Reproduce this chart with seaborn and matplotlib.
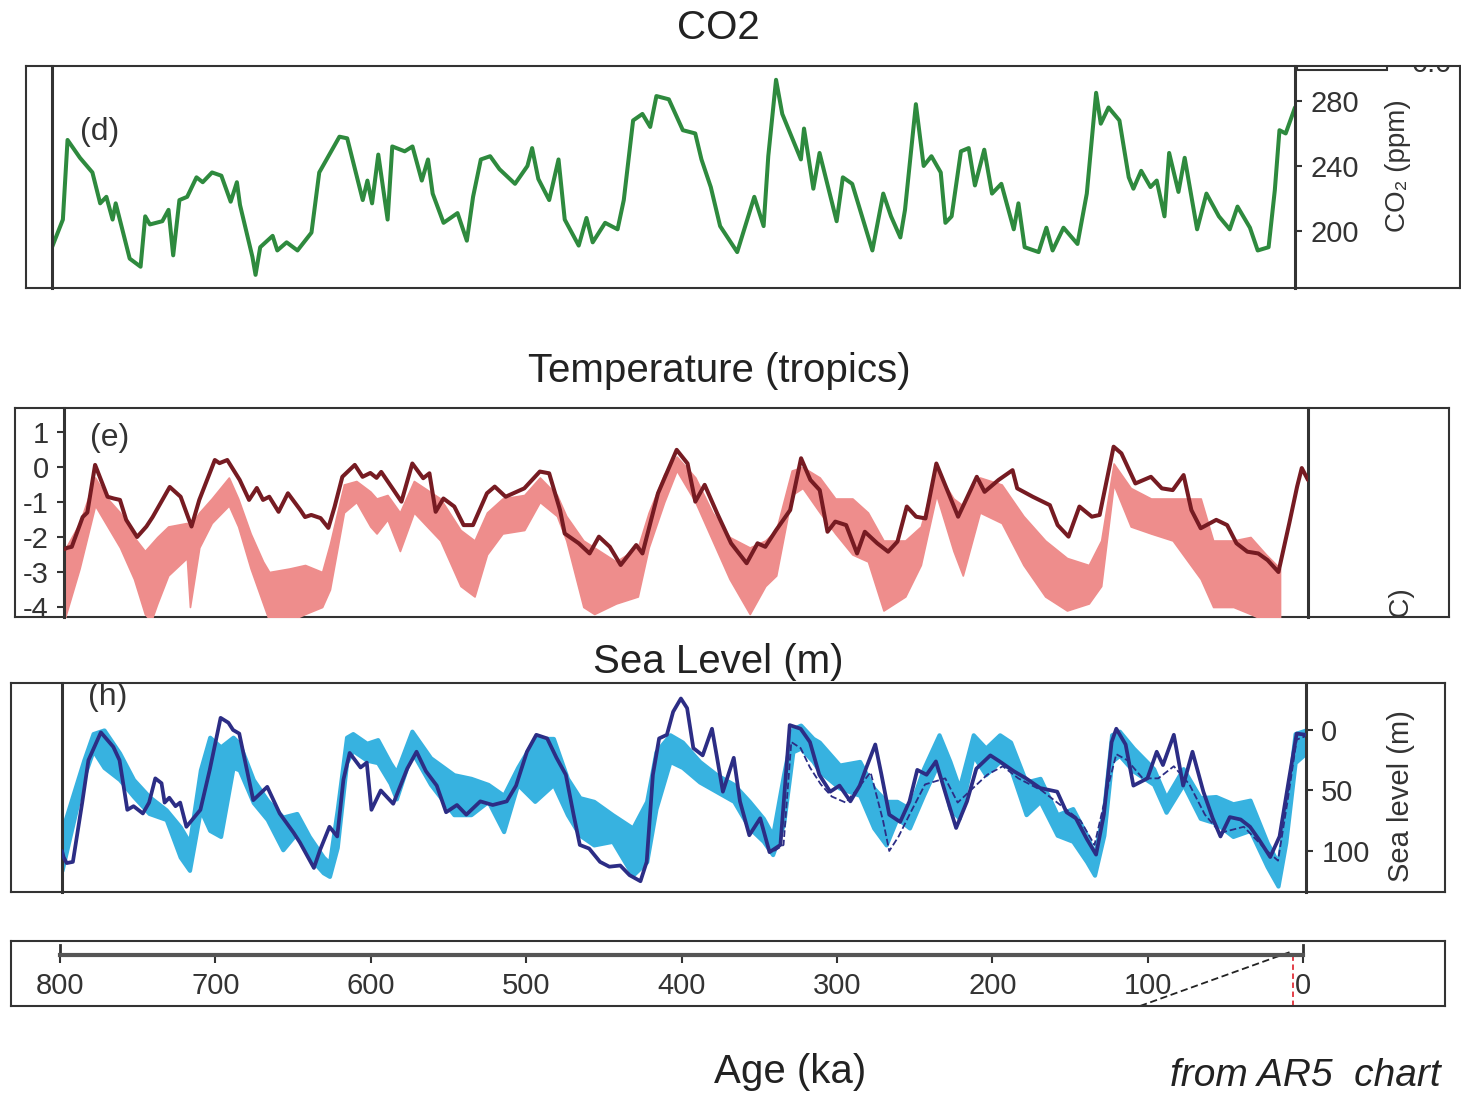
"""Paleo-climate montage: CO2, tropical temperature and sea level over the last 800 ka."""
import matplotlib
matplotlib.use('Agg')
import matplotlib.pyplot as plt
from matplotlib.patches import Rectangle
import seaborn as sns

W, H = 1461, 1095

# ---- CO2 (ppm) ----
co2_age = [800, 793, 790, 782, 774, 769, 765, 761, 759, 750, 743, 740, 737, 729, 725, 722,
           718, 713, 707, 703, 697, 691, 685, 681, 679, 671, 669, 666, 658, 655, 649, 642,
           633, 628, 615, 610, 600, 597, 594, 590, 584, 581, 573, 568, 562, 558, 555, 548,
           539, 533, 529, 524, 518, 512, 502, 494, 491, 487, 480, 474, 470, 461, 456, 452,
           444, 436, 432, 426, 420, 415, 411, 403, 394, 386, 382, 376, 370, 359, 348, 342,
           339, 334, 330, 318, 316, 310, 306, 295, 291, 285, 272, 265, 260, 254, 251, 244,
           239, 234, 228, 225, 221, 215, 210, 206, 200, 195, 189, 181, 178, 174, 165, 160,
           156, 149, 140, 134, 128, 125, 120, 113, 107, 104, 99, 93, 89, 84, 81, 75,
           71, 63, 57, 49, 42, 37, 29, 24, 17, 13, 10, 6, 0]
co2_ppm = [190, 207, 256, 245, 236, 217, 221, 207, 217, 183, 178, 209, 204, 206, 213, 185,
           219, 221, 233, 230, 236, 234, 218, 230, 216, 184, 173, 190, 197, 188, 193, 188,
           199, 236, 258, 257, 219, 231, 217, 247, 207, 252, 249, 252, 231, 244, 223, 205,
           211, 194, 221, 244, 246, 238, 229, 240, 251, 232, 219, 244, 207, 191, 208, 193,
           205, 201, 219, 268, 272, 264, 283, 281, 262, 260, 244, 227, 203, 187, 221, 203,
           246, 293, 272, 244, 263, 226, 248, 206, 233, 229, 188, 223, 209, 196, 213, 278,
           240, 246, 236, 205, 209, 249, 251, 228, 250, 223, 229, 201, 217, 190, 187, 202,
           188, 202, 192, 223, 285, 266, 276, 268, 233, 226, 237, 227, 231, 209, 248, 224,
           245, 201, 223, 209, 201, 215, 202, 188, 190, 225, 262, 260, 276]
co2_ticks = [200, 240, 280]

# ---- tropical temperature anomaly (degC) ----
temp_age = [800, 798, 795, 788, 785, 780, 777, 772, 768, 764, 760, 753, 747, 743, 732, 725,
            718, 713, 703, 700, 695, 687, 681, 676, 672, 668, 662, 656, 648, 645, 641, 635,
            630, 626, 621, 613, 608, 603, 599, 596, 588, 583, 576, 569, 565, 561, 556, 549,
            543, 537, 528, 523, 516, 509, 504, 494, 488, 481, 478, 469, 462, 456, 449, 442,
            432, 428, 418, 406, 399, 394, 388, 380, 371, 361, 354, 349, 342, 333, 326, 320,
            314, 309, 304, 297, 290, 285, 277, 270, 264, 258, 252, 246, 239, 232, 225, 213,
            208, 199, 190, 187, 177, 166, 161, 154, 147, 139, 134, 125, 120, 111, 101, 94,
            87, 80, 75, 69, 59, 52, 46, 39, 32, 26, 19, 12, 7, 4, 0]
temp_val = [-2.35, -2.31, -2.28, -1.43, -1.30, 0.06, -0.28, -0.85, -0.90, -0.94, -1.51, -2.00,
            -1.70, -1.43, -0.57, -0.85, -1.70, -0.94, 0.20, 0.11, 0.20, -0.37, -0.94, -0.60,
            -0.94, -0.85, -1.28, -0.75, -1.23, -1.43, -1.37, -1.46, -1.74, -1.14, -0.28, 0.06,
            -0.28, -0.17, -0.31, -0.14, -0.66, -0.99, 0.10, -0.32, -0.18, -1.28, -0.90, -1.13,
            -1.66, -1.66, -0.75, -0.56, -0.85, -0.71, -0.61, -0.13, -0.18, -1.23, -1.90, -2.18,
            -2.47, -1.99, -2.28, -2.80, -2.23, -2.47, -0.75, 0.49, 0.10, -0.99, -0.51, -1.32,
            -2.18, -2.75, -2.18, -2.28, -1.80, -1.23, 0.25, -0.37, -0.66, -1.85, -1.56, -1.66,
            -2.47, -1.85, -2.18, -2.42, -2.13, -1.13, -1.42, -1.47, 0.10, -0.66, -1.42, -0.28,
            -0.71, -0.37, -0.09, -0.61, -0.85, -1.09, -1.66, -1.99, -1.13, -1.42, -1.37, 0.58,
            0.39, -0.47, -0.28, -0.61, -0.66, -0.23, -1.23, -1.75, -1.51, -1.66, -2.18, -2.42,
            -2.47, -2.66, -3.00, -1.60, -0.56, -0.03, -0.37]
band_age = [800, 790, 780, 772, 764, 755, 748, 744, 740, 733, 721, 719, 713, 705, 694, 688,
            680, 672, 668, 655, 645, 634, 629, 620, 612, 603, 599, 592, 584, 575, 558, 545,
            536, 528, 518, 504, 494, 483, 477, 466, 459, 445, 431, 424, 414, 406, 394, 383,
            372, 359, 349, 342, 332, 325, 314, 304, 293, 283, 273, 259, 249, 239, 228, 222,
            211, 197, 183, 169, 155, 141, 133, 125, 114, 101, 87, 69, 61, 48, 37, 27, 18]
band_hi = [-2.4, -1.6, -0.3, -0.9, -1.3, -2.0, -2.4, -2.2, -2.0, -1.7, -1.6, -1.7, -1.3, -0.9,
           -0.3, -0.9, -1.9, -2.7, -3.0, -2.9, -2.8, -3.0, -2.2, -0.5, -0.4, -0.7, -0.9, -0.8,
           -1.3, -0.4, -0.9, -1.8, -2.1, -1.3, -0.9, -0.8, -0.3, -0.8, -1.4, -2.1, -2.3, -2.7,
           -2.3, -1.3, -0.2, 0.3, -0.3, -1.3, -2.0, -2.3, -2.1, -1.8, -0.1, 0.0, -0.3, -0.9,
           -0.9, -1.3, -2.1, -2.1, -1.7, -0.1, -0.9, -1.1, -0.3, -0.5, -1.4, -2.1, -2.6, -2.8,
           -2.1, 0.1, -0.6, -0.9, -0.9, -0.9, -2.1, -2.1, -2.0, -2.5, -2.9]
band_lo = [-4.4, -2.9, -1.1, -1.7, -2.3, -3.2, -4.2, -4.4, -3.9, -3.1, -2.6, -4.0, -2.3, -1.6,
           -1.1, -1.7, -2.9, -3.9, -4.4, -4.4, -4.2, -4.0, -3.5, -1.3, -1.0, -1.7, -1.9, -1.5,
           -2.4, -1.3, -2.1, -3.4, -3.7, -2.5, -1.9, -1.8, -1.0, -1.4, -2.1, -4.0, -4.2, -3.9,
           -3.7, -2.3, -1.0, -0.1, -1.0, -2.1, -3.2, -4.2, -3.4, -3.1, -0.8, -0.6, -1.3, -1.9,
           -2.5, -2.7, -4.1, -3.7, -2.8, -0.8, -2.4, -3.1, -1.3, -1.6, -2.8, -3.7, -4.1, -3.9,
           -3.4, -0.5, -1.7, -1.9, -2.1, -3.2, -4.0, -4.0, -4.2, -4.4, -4.4]
temp_ticks = [1, 0, -1, -2, -3, -4]

# ---- sea level (m below present) ----
sl_age = [800, 799, 797, 793, 787, 783, 775, 767, 763, 758, 754, 748, 744, 740, 736, 734,
          731, 727, 724, 720, 711, 705, 698, 693, 690, 686, 677, 668, 660, 651, 647, 638,
          634, 628, 623, 619, 615, 608, 604, 601, 595, 587, 578, 572, 566, 559, 553, 546,
          540, 531, 523, 514, 508, 501, 495, 488, 482, 476, 471, 467, 461, 454, 448, 441,
          435, 428, 424, 420, 416, 411, 407, 402, 398, 394, 388, 382, 379, 375, 368, 364,
          358, 351, 345, 338, 332, 325, 319, 313, 306, 300, 293, 287, 283, 277, 273, 268,
          261, 255, 250, 244, 238, 231, 225, 218, 212, 203, 197, 188, 180, 171, 160, 154,
          148, 141, 135, 130, 125, 122, 116, 111, 102, 96, 92, 85, 79, 73, 66, 60,
          55, 49, 42, 36, 30, 23, 17, 11, 6, 0]
sl_val = [100, 105, 110, 109, 60, 25, 2, 14, 25, 66, 63, 69, 60, 40, 44, 60,
          56, 63, 60, 80, 66, 33, -10, -6, 0, 3, 58, 47, 69, 85, 93, 114,
          99, 80, 88, 41, 19, 31, 27, 66, 50, 61, 32, 18, 34, 46, 68, 62,
          70, 59, 62, 59, 46, 18, 4, 7, 23, 37, 70, 95, 98, 109, 113, 112,
          120, 125, 109, 37, 7, 4, -15, -26, -18, 15, 21, -1, 21, 51, 23, 59,
          87, 73, 101, 95, -4, -1, 10, 37, 51, 46, 59, 46, 32, 12, 37, 70,
          76, 59, 33, 37, 26, 56, 81, 59, 32, 21, 26, 34, 40, 48, 51, 68,
          73, 90, 103, 70, 10, -1, 12, 46, 40, 18, 29, 4, 46, 18, 51, 73,
          88, 72, 74, 80, 91, 105, 88, 41, 3, 4]
sl_band_age = [800, 786, 780, 773, 763, 754, 744, 733, 724, 718, 711, 705, 698, 690, 686, 677,
               668, 658, 649, 641, 632, 628, 623, 617, 613, 604, 597, 589, 585, 575, 563, 548,
               537, 526, 516, 507, 496, 484, 475, 467, 458, 446, 433, 424, 418, 409, 401, 390,
               379, 368, 358, 349, 343, 336, 330, 325, 317, 313, 300, 287, 278, 270, 263, 255,
               246, 236, 229, 223, 214, 206, 197, 190, 180, 171, 160, 150, 141, 136, 130, 125,
               120, 111, 98, 90, 79, 68, 58, 47, 36, 25, 18, 13, 7, 0]
sl_band_hi = [83, 25, 3, 0, 19, 41, 55, 66, 80, 93, 33, 6, 14, 6, 11, 41,
              58, 72, 69, 88, 105, 110, 66, 6, 3, 11, 8, 27, 35, 1, 23, 37,
              40, 45, 54, 31, 7, 7, 40, 56, 59, 70, 81, 59, 18, 4, 10, 26,
              37, 45, 59, 73, 87, 37, -1, -4, 7, 10, 29, 26, 48, 59, 59, 65,
              32, 4, 26, 48, 4, 15, 4, 10, 43, 40, 70, 65, 87, 103, 65, 4,
              1, 15, 32, 56, 32, 56, 55, 61, 58, 93, 110, 69, 3, 0]
sl_band_lo = [116, 39, 17, 31, 41, 55, 69, 74, 105, 116, 66, 83, 88, 31, 33, 60,
              74, 99, 85, 105, 118, 121, 97, 27, 17, 25, 27, 44, 57, 18, 45, 70,
              70, 59, 84, 45, 59, 45, 70, 87, 95, 92, 120, 109, 65, 26, 31, 43,
              51, 59, 81, 92, 103, 78, 18, 15, 26, 34, 48, 54, 81, 95, 73, 81,
              54, 26, 65, 73, 21, 37, 26, 32, 70, 59, 87, 92, 109, 120, 87, 26,
              21, 34, 45, 68, 45, 73, 77, 88, 83, 113, 129, 93, 27, 19]
sl_dash_age = [342, 336, 331, 325, 319, 312, 305, 296, 288, 280, 272, 268, 262, 255, 245, 232,
               224, 205, 195, 185, 170, 155, 145, 136, 128, 122, 115, 105, 95, 85, 75, 65,
               55, 40, 25, 18, 12, 6, 0]
sl_dash_val = [100, 95, 10, 15, 31, 45, 55, 60, 48, 35, 75, 100, 88, 70, 45, 40,
               60, 37, 30, 40, 50, 65, 75, 95, 50, 20, 25, 40, 40, 30, 45, 70,
               85, 80, 100, 108, 60, 8, 5]
sl_ticks = [0, 50, 100]

age_ticks = [800, 700, 600, 500, 400, 300, 200, 100, 0]

EDGE = '#333333'
GREEN = '#2e8a3e'
DARK_RED = '#761b22'
PINK = '#ee8d8c'
NAVY = '#2c2d85'
CYAN = '#37b2e0'

sns.set_theme(style='white')
plt.rcParams['font.family'] = ['Liberation Sans', 'DejaVu Sans']
plt.rcParams['axes.unicode_minus'] = False

fig = plt.figure(figsize=(W / 100, H / 100), dpi=100)


def rect(x0, y0, x1, y1):
    return [x0 / W, 1 - y1 / H, (x1 - x0) / W, (y1 - y0) / H]


def fpos(x, y):
    return x / W, 1 - y / H


def panel(frame, x800, x0age):
    fx0, fy0, fx1, fy1 = frame
    k = 800 / (x0age - x800)
    box = fig.add_axes(rect(*frame))
    box.set_xlim(800 + (x800 - fx0) * k, (x0age - fx1) * k)
    box.set_ylim(0, 1)
    box.set_xticks([])
    box.set_yticks([])
    for sp in box.spines.values():
        sp.set_color(EDGE)
        sp.set_linewidth(1.5)
    ax = fig.add_axes(rect(x800, fy0, x0age, fy1))
    ax.patch.set_alpha(0)
    ax.spines['top'].set_visible(False)
    ax.spines['bottom'].set_visible(False)
    for side in ('left', 'right'):
        ax.spines[side].set_color(EDGE)
        ax.spines[side].set_linewidth(2.2)
    return box, ax


def finish(ax, ylim, ticks, side):
    ax.set_xlim(800, 0)
    ax.set_ylim(*ylim)
    ax.set_xticks([])
    ax.set_xlabel('')
    ax.set_ylabel('')
    ax.set_yticks(ticks)
    if side == 'right':
        ax.yaxis.tick_right()
    else:
        ax.yaxis.tick_left()
    ax.tick_params(axis='y', direction='out', length=5, width=1.5, color=EDGE,
                   labelsize=21, labelcolor='#333333', pad=6)


# --- CO2 ---
box, ax = panel((26, 66, 1460, 288), 52, 1295)
sns.lineplot(x=co2_age, y=co2_ppm, ax=ax, color=GREEN, linewidth=2.9,
             sort=False, estimator=None)
finish(ax, (164.9, 301.5), co2_ticks, 'right')
ax.text(*fpos(80, 132), '(d)', transform=fig.transFigure, fontsize=23,
        ha='left', va='center', color='#333333')
box.add_patch(Rectangle(fpos(1297, 70), 90 / W, 30 / H, transform=fig.transFigure,
                        fill=False, edgecolor=EDGE, linewidth=1.5, clip_on=True))
box.text(*fpos(1412, 72), '0.0', transform=fig.transFigure, fontsize=21,
         color='#333333', ha='left', va='baseline', clip_on=True)
fig.text(*fpos(1398, 166), 'CO\u2082 (ppm)', rotation=90, ha='center', va='center',
         fontsize=20, color='#333333')

# --- temperature ---
box, ax = panel((15, 408, 1449, 617), 64, 1308)
ax.fill_between(band_age, band_lo, band_hi, color=PINK, edgecolor=PINK,
                linewidth=1.2, zorder=1)
sns.lineplot(x=temp_age, y=temp_val, ax=ax, color=DARK_RED, linewidth=2.9,
             sort=False, estimator=None, zorder=3)
finish(ax, (-4.286, 1.686), temp_ticks, 'left')
ax.text(*fpos(90, 438), '(e)', transform=fig.transFigure, fontsize=23,
        ha='left', va='center', color='#333333')
box.text(*fpos(1400, 586), '(°C)', transform=fig.transFigure, rotation=90,
         ha='center', va='top', fontsize=20, color='#333333', clip_on=True)

# --- sea level ---
box, ax = panel((11, 683, 1445, 892), 62, 1306)
ax.fill_between(sl_band_age, sl_band_lo, sl_band_hi, color=CYAN, edgecolor=CYAN,
                linewidth=3, zorder=1)
sns.lineplot(x=sl_dash_age, y=sl_dash_val, ax=ax, color=NAVY, linewidth=1.3,
             linestyle='--', sort=False, estimator=None, zorder=2)
sns.lineplot(x=sl_age, y=sl_val, ax=ax, color=NAVY, linewidth=2.7,
             sort=False, estimator=None, zorder=3)
finish(ax, (133.9, -38.8), sl_ticks, 'right')
ax.text(*fpos(88, 697), '(h)', transform=fig.transFigure, fontsize=23,
        ha='left', va='center', color='#333333', clip_on=True)
fig.text(*fpos(1401, 796), 'Sea level (m)', rotation=90, ha='center', va='center',
         fontsize=21, color='#333333')

# --- shared age axis ---
fx0, fy0, fx1, fy1 = 11, 941, 1445, 1006
k = 800 / (1303 - 60)
box = fig.add_axes(rect(fx0, fy0, fx1, fy1))
box.set_xlim(800 + (60 - fx0) * k, (1303 - fx1) * k)
box.set_ylim(0, 1)
box.set_xticks([])
box.set_yticks([])
for sp in box.spines.values():
    sp.set_color(EDGE)
    sp.set_linewidth(1.5)
box.plot([104.9, 8.4], [0.0, 0.83], color='#222222', linewidth=1.3,
         linestyle=(0, (4, 2)))
box.axvline(6.4, ymin=0, ymax=0.79, color='#e0303a', linewidth=1.3,
            linestyle=(0, (3, 2)))

axx = fig.add_axes(rect(60, 945, 1303, 955))
axx.patch.set_alpha(0)
axx.set_xlim(800, 0)
axx.set_yticks([])
axx.set_xticks(age_ticks)
axx.set_xticklabels([str(a) for a in age_ticks])
axx.spines['top'].set_visible(False)
axx.spines['bottom'].set_linewidth(3)
axx.spines['bottom'].set_color('#555555')
for side in ('left', 'right'):
    axx.spines[side].set_color(EDGE)
    axx.spines[side].set_linewidth(2)
axx.tick_params(axis='x', direction='out', length=6, width=1.5, color=EDGE,
                labelsize=21, labelcolor='#333333', pad=6, bottom=True)

# --- titles ---
fig.text(*fpos(718, 28), 'CO2', ha='center', va='center', fontsize=29, color='#222222')
fig.text(*fpos(719, 371), 'Temperature (tropics)', ha='center', va='center',
         fontsize=29, color='#222222')
fig.text(*fpos(718, 662), 'Sea Level (m)', ha='center', va='center',
         fontsize=29, color='#222222')
fig.text(*fpos(790, 1072), 'Age (ka)', ha='center', va='center',
         fontsize=29, color='#222222')
fig.text(*fpos(1170, 1058), 'from AR5  chart', ha='left', va='top',
         fontsize=28, style='italic', color='#222222')

fig.savefig('out.png', dpi=100)
plt.close(fig)
